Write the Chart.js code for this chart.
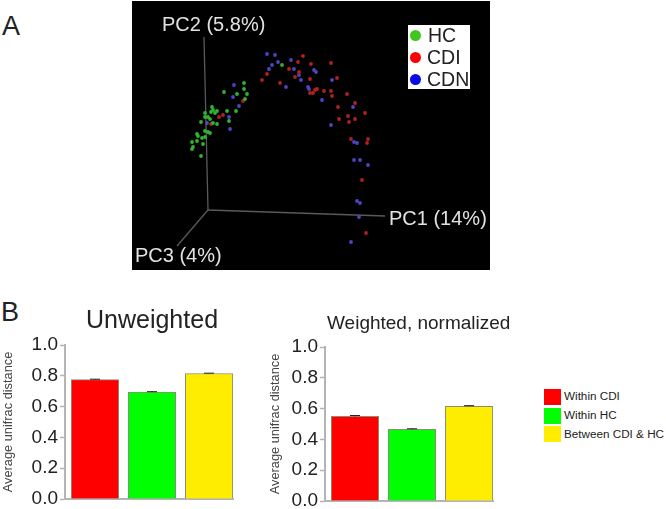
<!DOCTYPE html>
<html>
<head>
<meta charset="utf-8">
<script src="https://cdn.jsdelivr.net/npm/chart.js@4/dist/chart.umd.min.js"></script>
<style>
    html, body { margin: 0; padding: 0; background: #fff; width: 666px; height: 509px; overflow: hidden; }
    body { position: relative; font-family: "Liberation Sans", Arial, sans-serif; color: #222; filter: blur(0.4px); }
    canvas { display: block; }
    .box { position: absolute; }
    .txt { position: absolute; white-space: nowrap; line-height: 1; }
    .pc { color: #e2e2e2; font-size: 20px; }
    .dot { position: absolute; width: 11px; height: 11px; border-radius: 50%; }
    .swatch { position: absolute; width: 17px; height: 16px; }
    #pcaBox { left: 132px; top: 1px; width: 358px; height: 269px; background: #000; }
    #unwBox { left: 0; top: 300px; width: 260px; height: 209px; }
    #wgtBox { left: 260px; top: 300px; width: 260px; height: 209px; }
</style>
</head>
<body>
<div class="txt" style="left:2px;top:13px;font-size:27px">A</div>
<div class="txt" style="left:1px;top:299px;font-size:27px">B</div>

<div class="box" id="pcaBox"><canvas id="pca" width="358" height="269"></canvas></div>
<div class="txt pc" style="left:162px;top:14px">PC2 (5.8%)</div>
<div class="txt pc" style="left:389px;top:208px">PC1 (14%)</div>
<div class="txt pc" style="left:135px;top:245px">PC3 (4%)</div>

<div class="box" style="left:408px;top:25px;width:62px;height:64px;background:#fff"></div>
<div class="dot" style="left:410px;top:30px;background:#3fc71f"></div>
<div class="dot" style="left:410px;top:52px;background:#f00"></div>
<div class="dot" style="left:410px;top:74px;background:#0a0ae6"></div>
<div class="txt" style="left:428px;top:26px;font-size:19.5px">HC</div>
<div class="txt" style="left:427px;top:48px;font-size:19.5px">CDI</div>
<div class="txt" style="left:427px;top:70px;font-size:19.5px">CDN</div>

<div class="box" id="unwBox"><canvas id="unweighted" width="260" height="209"></canvas></div>
<div class="box" id="wgtBox"><canvas id="weighted" width="260" height="209"></canvas></div>
<div class="txt" style="left:86px;top:307px;font-size:25px">Unweighted</div>
<div class="txt" style="left:327px;top:313px;font-size:19px">Weighted, normalized</div>

<div class="swatch" style="left:544px;top:389px;background:#f00"></div>
<div class="swatch" style="left:544px;top:408px;background:#0f0"></div>
<div class="swatch" style="left:544px;top:426px;background:#ffed00"></div>
<div class="txt" style="left:564px;top:390px;font-size:11.7px">Within CDI</div>
<div class="txt" style="left:564px;top:409px;font-size:11.7px">Within HC</div>
<div class="txt" style="left:564px;top:428px;font-size:11.7px">Between CDI &amp; HC</div>

<script>
// PCoA projection (origin = where the three axes meet)
const hcX = [36, 36, 39, 16, 29, 37, 28, 19, 21, 4, 9, 5, 3, 7, -3, 0, -3, 2, -7, 9, 5, -3, 0, -11, 2, -16, -15, -16, -11, -10, -6, -3, -5, -7, 74];
const hcY = [127, 121, 116, 118, 116, 111, 99, 99, 89, 103, 99, 100, 98, 97, 97, 93, 93, 91, 88, 86, 87, 79, 78, 76, 77, 68, 63, 61, 69, 74, 72, 73, 66, 54, 145];
const cdiX = [35, 11, 15, 3, 90, 81, 59, 54, 72, 87, 91, 95, 103, 123, 129, 102, 109, 107, 105, 102, 116, 123, 124, 139, 147, 130, 157, 140, 131, 147, 141, 143, 160, 159, 154, 158];
const cdiY = [109, 93, 95, 86, 148, 141, 136, 130, 127, 133, 138, 154, 146, 147, 132, 131, 121, 120, 117, 117, 119, 119, 114, 116, 107, 103, 97, 94, 91, 91, 88, 71, 71, 67, 30, -23];
const cdnX = [26, 25, 31, 21, -1, 22, 59, 67, 70, 64, 61, 83, 86, 78, 91, 106, 108, 93, 124, 100, 101, 114, 145, 123, 146, 149, 146, 152, 160, 149, 152, 151, 143];
const cdnY = [125, 113, 104, 93, 87, 81, 156, 155, 148, 145, 141, 150, 141, 123, 135, 140, 138, 130, 130, 123, 121, 110, 103, 85, 68, 67, 50, 50, 45, 9, 7, -7, -32];

// ends of the three drawn axes
const axisEndX = [-4, 177, -31];
const axisEndY = [173, -6, -36];

// bar values
const groups = ["Within CDI", "Within HC", "Between CDI & HC"];
const unweightedVals = [0.775, 0.695, 0.815];
const unweightedErr = [0.003, 0.002, 0.002];
const weightedVals = [0.55, 0.465, 0.615];
const weightedErr = [0.005, 0.004, 0.004];
const yTicks = [0, 0.2, 0.4, 0.6, 0.8, 1];
const barColors = ["#ff0000", "#00ff00", "#ffed00"];

function pts(xs, ys) {
    return xs.map((x, i) => ({ x: x, y: ys[i] }));
}

function dotSet(label, xs, ys, color) {
    return {
        label: label,
        data: pts(xs, ys),
        backgroundColor: color,
        borderWidth: 0,
        pointRadius: 1.9,
        order: 1,
    };
}

function axisSet(i) {
    return {
        type: "line",
        data: [{ x: 0, y: 0 }, { x: axisEndX[i], y: axisEndY[i] }],
        borderColor: "#5a5a5a",
        borderWidth: 1.3,
        pointRadius: 0,
        order: 2,
    };
}

new Chart(document.getElementById("pca"), {
    type: "scatter",
    data: {
        datasets: [
            axisSet(0), axisSet(1), axisSet(2),
            dotSet("HC", hcX, hcY, "#2fb52f"),
            dotSet("CDI", cdiX, cdiY, "#b5201f"),
            dotSet("CDN", cdnX, cdnY, "#4c46c4"),
        ],
    },
    options: {
        responsive: false,
        animation: false,
        layout: { padding: 0, autoPadding: false },
        plugins: { legend: { display: false }, tooltip: { enabled: false } },
        scales: {
            x: { display: false, min: -76, max: 282 },
            y: { display: false, min: -60, max: 209 },
        },
    },
});

// small black error bars on top of each bar
const errorBars = {
    id: "errorBars",
    afterDatasetsDraw(chart, args, opts) {
        const ctx = chart.ctx;
        const y = chart.scales.y;
        ctx.save();
        ctx.strokeStyle = "#222";
        ctx.lineWidth = 1;
        chart.getDatasetMeta(0).data.forEach((bar, i) => {
            const v = chart.data.datasets[0].data[i].y;
            const top = y.getPixelForValue(v + opts.err[i]);
            const bottom = y.getPixelForValue(v);
            ctx.beginPath();
            ctx.moveTo(bar.x - 5, top);
            ctx.lineTo(bar.x + 5, top);
            ctx.moveTo(bar.x, top);
            ctx.lineTo(bar.x, bottom);
            ctx.stroke();
        });
        ctx.restore();
    },
};

function barChart(canvasId, title, vals, errs, box) {
    return new Chart(document.getElementById(canvasId), {
        type: "bar",
        data: {
            datasets: [{
                label: title,
                data: vals.map((v, i) => ({ x: i + 1, y: v, group: groups[i] })),
                backgroundColor: barColors,
                borderColor: "#8c8c70",
                borderWidth: 1,
                barThickness: 47.5,
            }],
        },
        plugins: [errorBars],
        options: {
            responsive: false,
            animation: false,
            layout: { autoPadding: false, padding: { top: box.top, bottom: box.bottom, right: box.right, left: 0 } },
            plugins: {
                legend: { display: false },
                tooltip: { enabled: false },
                errorBars: { err: errs },
            },
            scales: {
                x: {
                    type: "linear",
                    offset: false,
                    min: 0.474,
                    max: 3.42,
                    afterFit: (s) => { s.height = 0; },
                    ticks: { display: false },
                    grid: { display: false },
                    border: { color: "#b4b4b4", width: 2 },
                },
                y: {
                    min: 0,
                    max: 1,
                    afterFit: (s) => { s.width = box.axisLeft; s.paddingTop = 0; s.paddingBottom = 0; },
                    afterBuildTicks: (s) => { s.ticks = yTicks.map((v) => ({ value: v })); },
                    ticks: {
                        color: "#222",
                        padding: 2,
                        font: { family: "Liberation Sans", size: 19 },
                        callback: (v) => v.toFixed(1),
                    },
                    grid: { drawOnChartArea: false, tickLength: 5, tickColor: "#b4b4b4", tickWidth: 1.5 },
                    border: { color: "#b4b4b4", width: 2 },
                    title: {
                        display: true,
                        text: "Average unifrac distance",
                        color: "#444",
                        padding: { top: box.titlePad, bottom: 0 },
                        font: { family: "Liberation Sans", size: 12.8 },
                    },
                },
            },
        },
    });
}

barChart("unweighted", "Unweighted", unweightedVals, unweightedErr,
    { top: 45, bottom: 10, right: 27, axisLeft: 65, titlePad: 1 });
barChart("weighted", "Weighted, normalized", weightedVals, weightedErr,
    { top: 47, bottom: 8, right: 27, axisLeft: 65, titlePad: 8 });
</script>
</body>
</html>
